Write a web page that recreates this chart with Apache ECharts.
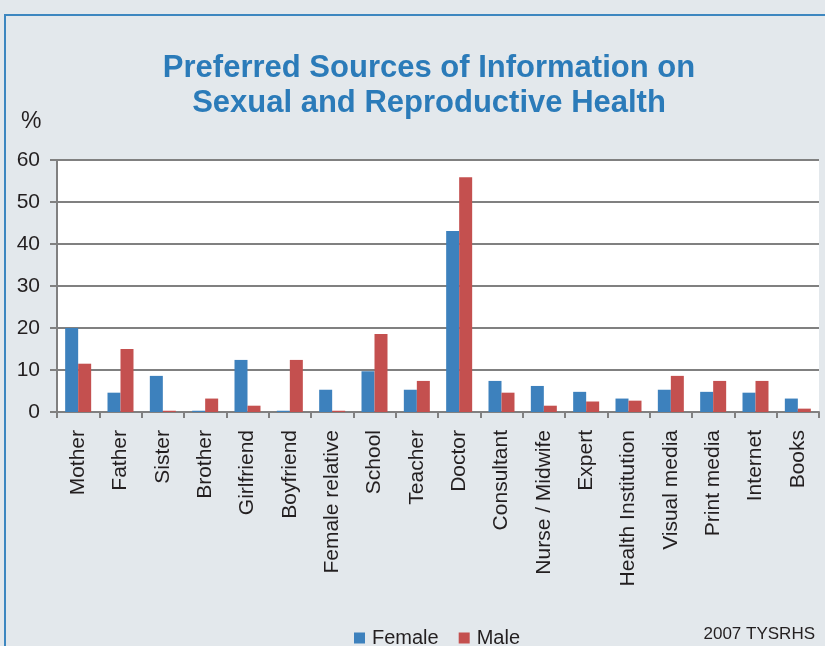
<!DOCTYPE html>
<html>
<head>
<meta charset="utf-8">
<script src="https://cdn.jsdelivr.net/npm/echarts@6/dist/echarts.min.js"></script>
<style>
html,body{margin:0;padding:0;background:#e3e8ec;}
#chart{width:825px;height:646px;}
</style>
</head>
<body>
<div id="chart"></div>
<script>
const categories = ["Mother","Father","Sister","Brother","Girlfriend","Boyfriend","Female relative","School","Teacher","Doctor","Consultant","Nurse / Midwife","Expert","Health Institution","Visual media","Print media","Internet","Books"];
const female = [20, 4.6, 8.6, 0.3, 12.4, 0.3, 5.3, 9.7, 5.3, 43.1, 7.4, 6.2, 4.8, 3.2, 5.3, 4.8, 4.6, 3.2];
const male   = [11.5, 15.0, 0.3, 3.2, 1.5, 12.4, 0.3, 18.6, 7.4, 55.9, 4.6, 1.5, 2.5, 2.7, 8.6, 7.4, 7.4, 0.8];
const yTicks = [0, 10, 20, 30, 40, 50, 60];

const FONT = '"Liberation Sans", Arial, sans-serif';
const chart = echarts.init(document.getElementById('chart'), null, {renderer: 'canvas'});
const gray = '#808080';
chart.setOption({
  backgroundColor: '#e3e8ec',
  animation: false,
  title: {
    text: 'Preferred Sources of Information on\nSexual and Reproductive Health',
    left: 424,
    top: 46,
    textAlign: 'center',
    textStyle: {color: '#2b7bb9', fontFamily: FONT, fontWeight: 'bold', fontSize: 31, lineHeight: 35}
  },
  legend: {
    left: 349, top: 623,
    itemWidth: 11, itemHeight: 11, itemGap: 20,
    icon: 'rect',
    textStyle: {fontFamily: FONT, fontSize: 20, color: '#231f20', padding: [0, 0, 0, 2]},
    data: ['Female', 'Male']
  },
  grid: {left: 57, right: 6, top: 160, bottom: 234, show: true, backgroundColor: '#ffffff', borderWidth: 0},
  xAxis: {
    type: 'category',
    data: categories,
    axisLine: {show: true, lineStyle: {color: gray, width: 2}},
    axisTick: {show: true, length: 6, lineStyle: {color: gray, width: 2}},
    axisLabel: {rotate: 90, interval: 0, margin: 18, fontFamily: FONT, fontSize: 21, color: '#231f20'}
  },
  yAxis: {
    type: 'value',
    min: 0, max: 60, interval: 10,
    axisLine: {show: true, lineStyle: {color: gray, width: 2}},
    axisTick: {show: true, length: 7, lineStyle: {color: gray, width: 2}},
    splitLine: {show: true, lineStyle: {color: gray, width: 2}},
    axisLabel: {margin: 17, fontFamily: FONT, fontSize: 21, color: '#231f20',
      formatter: v => yTicks.includes(v) ? String(v) : ''}
  },
  series: [
    {name: 'Female', type: 'bar', data: female, barWidth: 13, barGap: '0%', itemStyle: {color: '#3d81bd'}},
    {name: 'Male', type: 'bar', data: male, barWidth: 13, barGap: '0%', itemStyle: {color: '#c4504f'}}
  ],
  graphic: [
    {type: 'polyline', shape: {points: [[5, 646], [5, 15], [825, 15]]}, style: {stroke: '#3d87c0', lineWidth: 2, fill: null}, silent: true},
    {type: 'text', left: 21, top: 110, style: {text: '%', font: '23px ' + FONT, fill: '#231f20'}},
    {type: 'text', right: 10, top: 626, style: {text: '2007 TYSRHS', font: '17px ' + FONT, fill: '#231f20'}}
  ]
});
</script>
</body>
</html>
